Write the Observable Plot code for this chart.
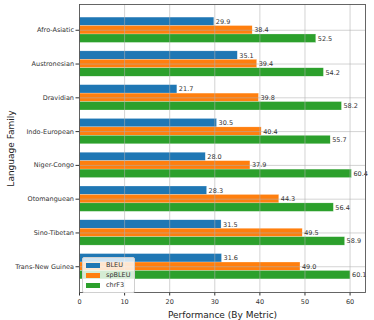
<!DOCTYPE html>
<html>
<head>
<meta charset="utf-8">
<script src="https://cdn.jsdelivr.net/npm/d3@7"></script>
<script src="https://cdn.jsdelivr.net/npm/@observablehq/plot@0.6"></script>
<style>
  body { margin: 0; background: #fff; }
  #wrap { position: relative; width: 374px; height: 320px; font-family: "DejaVu Sans", sans-serif; }
  #legend { position: absolute; left: 82px; top: 257px; width: 48px; padding: 2px 0 2px 3px;
    background: rgba(255,255,255,0.8); border: 1px solid #d0d0d0; border-radius: 2px;
    font-size: 6.5px; color: #333; }
  #legend .row { display: flex; align-items: center; height: 10px; }
  #legend .sw { width: 14px; height: 5px; margin-right: 6px; }
  g[aria-label="x-axis label"] text, g[aria-label="y-axis label"] text { font-size: 9px; fill: #222; }
</style>
</head>
<body>
<div id="wrap"><div id="chart"></div><div id="legend"></div></div>
<script>
const families = ["Afro-Asiatic","Austronesian","Dravidian","Indo-European","Niger-Congo","Otomanguean","Sino-Tibetan","Trans-New Guinea"];
const metrics = ["BLEU","spBLEU","chrF3"];
const bleu   = [29.9, 35.1, 21.7, 30.5, 28.0, 28.3, 31.5, 31.6];
const spbleu = [38.4, 39.4, 39.8, 40.4, 37.9, 44.3, 49.5, 49.0];
const chrf3  = [52.5, 54.2, 58.2, 55.7, 60.4, 56.4, 58.9, 60.1];
const colors = ["#1f77b4","#ff7f0e","#2ca02c"];
const xTicks = [0,10,20,30,40,50,60];

const series = [bleu, spbleu, chrf3];
const barH = 0.25;
const rows = [];
families.forEach((f, i) => {
  metrics.forEach((m, j) => {
    const c = i + (j - 1) * barH;
    rows.push({family: f, metric: m, value: series[j][i], y1: c - barH/2, y2: c + barH/2, yc: c});
  });
});

const pad = (families.length - 1 + 2*1.5*barH) * 0.05;
const chart = Plot.plot({
  width: 374, height: 320,
  marginLeft: 79, marginRight: 9, marginTop: 4, marginBottom: 28,
  style: {fontFamily: "DejaVu Sans, sans-serif", fontSize: "6.5px", color: "#333", background: "#fff"},
  x: {domain: [0, 60.4*1.05]},
  y: {domain: [-1.5*barH - pad, families.length - 1 + 1.5*barH + pad], reverse: true},
  color: {domain: metrics, range: colors},
  marks: [
    Plot.rect(rows, {x1: 0, x2: "value", y1: "y1", y2: "y2", fill: "metric", stroke: "white", strokeWidth: 0.4, strokeOpacity: 0.6}),
    Plot.gridX(xTicks, {stroke: "#b0b0b0", strokeOpacity: 0.7, strokeWidth: 0.8}),
    Plot.gridY(d3.range(families.length), {stroke: "#b0b0b0", strokeOpacity: 0.7, strokeWidth: 0.8}),
    Plot.text(rows, {x: "value", y: "yc", text: d => d.value.toFixed(1), textAnchor: "start", dx: 1.5, fill: "#333", fontSize: 6.5}),
    Plot.axisX({ticks: xTicks, tickSize: 3.5, tickPadding: 3, label: "Performance (By Metric)", labelAnchor: "center", labelArrow: "none", labelOffset: 25}),
    Plot.axisY({ticks: d3.range(families.length), tickFormat: i => families[i], tickSize: 3.5, tickPadding: 2, label: "Language Family", labelAnchor: "center", labelArrow: "none", labelOffset: 72}),
    Plot.frame({stroke: "#555", strokeWidth: 0.9})
  ]
});
document.getElementById("chart").append(chart);

const legend = document.getElementById("legend");
metrics.forEach((m, j) => {
  const r = document.createElement("div");
  r.className = "row";
  r.innerHTML = `<span class="sw" style="background:${colors[j]}"></span><span>${m}</span>`;
  legend.append(r);
});
</script>
</body>
</html>
